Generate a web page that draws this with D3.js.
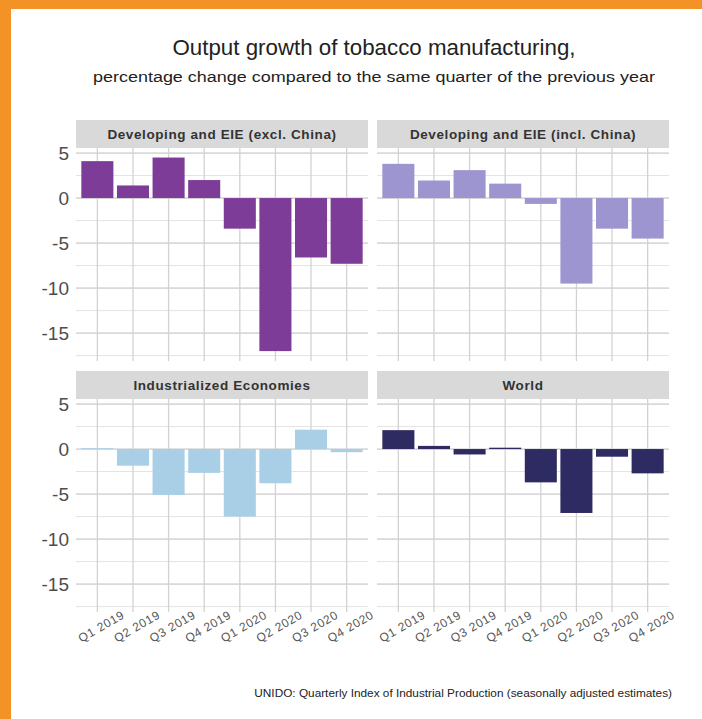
<!DOCTYPE html>
<html>
<head>
<meta charset="utf-8">
<script src="https://cdn.jsdelivr.net/npm/d3@7"></script>
<style>
  html, body { margin: 0; padding: 0; background: #fff; }
  svg { display: block; font-family: "Liberation Sans", Arial, sans-serif; }
</style>
</head>
<body>
<svg id="chart" width="702" height="719"></svg>
<script>
// Quarters shown on the x axis
const quarters = ["Q1 2019", "Q2 2019", "Q3 2019", "Q4 2019", "Q1 2020", "Q2 2020", "Q3 2020", "Q4 2020"];

// Year-on-year output growth (%) per region group
const devExclChina = [4.1, 1.4, 4.5, 2.0, -3.4, -17.0, -6.6, -7.3];
const devInclChina = [3.8, 1.95, 3.1, 1.6, -0.65, -9.5, -3.4, -4.5];
const industrialized = [0.1, -1.85, -5.1, -2.65, -7.5, -3.8, 2.15, -0.35];
const world = [2.1, 0.35, -0.6, 0.15, -3.7, -7.1, -0.85, -2.7];

const panelNames = ["Developing and EIE (excl. China)", "Developing and EIE (incl. China)", "Industrialized Economies", "World"];
const yTickValues = [5, 0, -5, -10, -15];

const titleText = "Output growth of tobacco manufacturing,";
const subtitleText = "percentage change compared to the same quarter of the previous year";
const sourceText = "UNIDO: Quarterly Index of Industrial Production (seasonally adjusted estimates)";

const panels = [
  { name: panelNames[0], values: devExclChina, color: "#7d3c98", col: 0, row: 0 },
  { name: panelNames[1], values: devInclChina, color: "#9d95d0", col: 1, row: 0 },
  { name: panelNames[2], values: industrialized, color: "#a9cfe7", col: 0, row: 1 },
  { name: panelNames[3], values: world, color: "#2e2a62", col: 1, row: 1 }
];

const svg = d3.select("#chart");

// Orange frame along the top and left edges
svg.append("rect").attr("x", 0).attr("y", 0).attr("width", 702).attr("height", 9).attr("fill", "#f39325");
svg.append("rect").attr("x", 0).attr("y", 0).attr("width", 11).attr("height", 719).attr("fill", "#f39325");

// Titles
svg.append("text").attr("x", 374).attr("y", 55).attr("text-anchor", "middle")
  .attr("font-size", 22).attr("fill", "#222")
  .attr("textLength", 403).attr("lengthAdjust", "spacingAndGlyphs").text(titleText);
svg.append("text").attr("x", 374).attr("y", 82).attr("text-anchor", "middle")
  .attr("font-size", 15.5).attr("fill", "#222")
  .attr("textLength", 562).attr("lengthAdjust", "spacingAndGlyphs").text(subtitleText);

// Facet geometry
const colX = [76, 377];
const panelW = 292;
const stripH = 28;
const rowTop = [120, 371];
const panelH = 213;

const yDomain = [-18.1, 5.56];
const minorLines = d3.range(-17.5, 5.01, 2.5);

panels.forEach(p => {
  const x0 = colX[p.col];
  const sTop = rowTop[p.row];
  const pTop = sTop + stripH;
  const pBot = pTop + panelH;

  const x = d3.scaleBand().domain(quarters).range([x0, x0 + panelW])
    .paddingInner(0.1).paddingOuter(0.15);
  const y = d3.scaleLinear().domain(yDomain).range([pBot, pTop]);

  const g = svg.append("g");

  // strip
  g.append("rect").attr("x", x0).attr("y", sTop).attr("width", panelW).attr("height", stripH)
    .attr("fill", "#d9d9d9");
  g.append("text").attr("x", x0 + panelW / 2).attr("y", sTop + 19)
    .attr("text-anchor", "middle").attr("font-size", 13.5).attr("font-weight", "bold")
    .attr("letter-spacing", 0.6).attr("fill", "#333").text(p.name);

  // gridlines
  g.append("g").selectAll("line.minor").data(minorLines).join("line")
    .attr("x1", x0).attr("x2", x0 + panelW)
    .attr("y1", d => y(d)).attr("y2", d => y(d))
    .attr("stroke", "#e3e3e3").attr("stroke-width", 1);
  g.append("g").selectAll("line.major").data(yTickValues).join("line")
    .attr("x1", x0).attr("x2", x0 + panelW)
    .attr("y1", d => y(d)).attr("y2", d => y(d))
    .attr("stroke", "#d2d2d2").attr("stroke-width", 1.3);
  g.append("g").selectAll("line.v").data(quarters).join("line")
    .attr("x1", d => x(d) + x.bandwidth() / 2).attr("x2", d => x(d) + x.bandwidth() / 2)
    .attr("y1", pTop).attr("y2", pBot)
    .attr("stroke", "#d2d2d2").attr("stroke-width", 1.3);

  // bars
  g.append("g").selectAll("rect").data(p.values).join("rect")
    .attr("x", (d, i) => x(quarters[i]))
    .attr("width", x.bandwidth())
    .attr("y", d => y(Math.max(0, d)))
    .attr("height", d => Math.max(1, Math.abs(y(d) - y(0))))
    .attr("fill", p.color);

  // y axis on the left column
  if (p.col === 0) {
    const ya = g.append("g").attr("transform", `translate(${x0 - 2},0)`)
      .call(d3.axisLeft(y).tickValues(yTickValues).tickFormat(d => String(d)).tickSize(0).tickPadding(5));
    ya.select(".domain").remove();
    ya.selectAll("text").attr("font-size", 19).attr("fill", "#4d4d4d")
      .attr("font-family", "Liberation Sans, Arial, sans-serif");
  }

  // x axis on the bottom row
  if (p.row === 1) {
    const xa = g.append("g").attr("transform", `translate(0,${pBot})`)
      .call(d3.axisBottom(x).tickSize(0).tickPadding(0));
    xa.select(".domain").remove();
    xa.selectAll("text")
      .attr("font-size", 12).attr("fill", "#555")
      .attr("letter-spacing", 0.7)
      .attr("font-family", "Liberation Sans, Arial, sans-serif")
      .attr("text-anchor", "middle")
      .attr("dy", null).attr("y", 0)
      .attr("transform", "translate(6,18) rotate(-30)");
  }
});

// Source note
svg.append("text").attr("x", 672).attr("y", 697).attr("text-anchor", "end")
  .attr("font-size", 11.8).attr("fill", "#222").text(sourceText);
</script>
</body>
</html>
